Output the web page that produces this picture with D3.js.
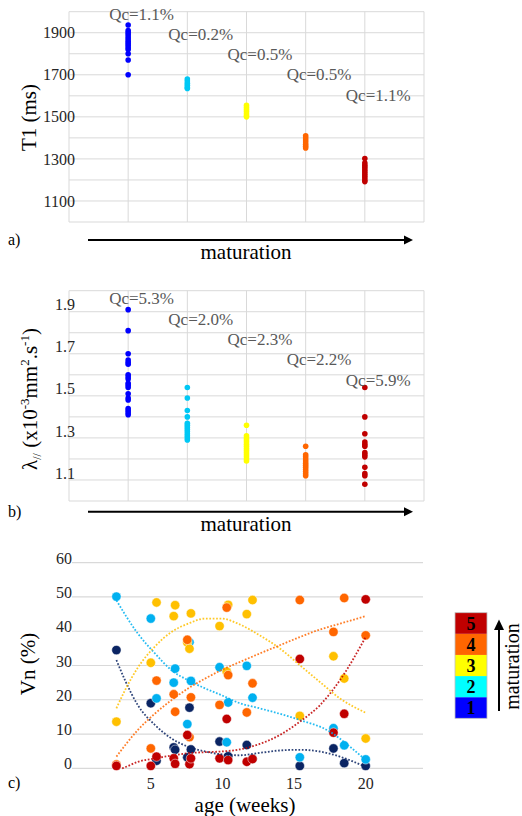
<!DOCTYPE html>
<html><head><meta charset="utf-8">
<script src="https://cdn.jsdelivr.net/npm/d3@7"></script>
<style>
body{margin:0;background:#fff}
svg{display:block}
text{font-family:"Liberation Serif","Times New Roman",serif}
</style>
</head><body>
<svg id="chart" width="522" height="816"></svg>
<script>
// ---------- DATA ----------
const classes = [1, 2, 3, 4, 5];

// panel a: T1 (ms) per maturation class
const t1Class1 = [1937, 1910, 1900, 1890, 1880, 1870, 1860, 1850, 1840, 1830, 1820, 1800, 1770, 1700];
const t1Class2 = [1680, 1670, 1660, 1650, 1640, 1635];
const t1Class3 = [1555, 1545, 1535, 1525, 1515, 1505, 1500];
const t1Class4 = [1410, 1400, 1390, 1380, 1370, 1360, 1352];
const t1Class5 = [1302, 1280, 1270, 1260, 1250, 1240, 1230, 1220, 1210, 1200, 1192];
const t1Qc = ["Qc=1.1%", "Qc=0.2%", "Qc=0.5%", "Qc=0.5%", "Qc=1.1%"];
const t1TickLabels = [1100, 1300, 1500, 1700, 1900];

// panel b: lambda // per maturation class
const lamClass1 = [1.91, 1.81, 1.70, 1.67, 1.66, 1.65, 1.60, 1.59, 1.58, 1.56, 1.55, 1.54, 1.51, 1.49, 1.48, 1.44, 1.43, 1.42, 1.41];
const lamClass2 = [1.54, 1.49, 1.43, 1.40, 1.37, 1.36, 1.35, 1.34, 1.33, 1.32, 1.31, 1.30, 1.29];
const lamClass3 = [1.36, 1.31, 1.30, 1.29, 1.28, 1.27, 1.26, 1.25, 1.24, 1.23, 1.22, 1.21, 1.20, 1.19];
const lamClass4 = [1.26, 1.22, 1.21, 1.20, 1.19, 1.18, 1.17, 1.16, 1.15, 1.14, 1.13, 1.12];
const lamClass5 = [1.54, 1.40, 1.32, 1.28, 1.27, 1.26, 1.23, 1.22, 1.21, 1.16, 1.13, 1.12, 1.08];
const lamQc = ["Qc=5.3%", "Qc=2.0%", "Qc=2.3%", "Qc=2.2%", "Qc=5.9%"];
const lamTickLabels = [1.1, 1.3, 1.5, 1.7, 1.9];

// panel c: Vn (%) per subject age (weeks)
const ages = [2.6, 5.0, 5.4, 6.6, 6.7, 7.55, 7.7, 7.8, 9.8, 10.3, 10.4, 11.7, 12.1, 15.4, 17.75, 18.5, 20.0];
const vn1 = [34.5, 19.0, 2.2, 6.1, 5.4, 3.2, 17.7, 5.5, 7.8, 2.9, 3.5, 6.8, 2.8, 0.7, 5.8, 1.5, 0.7];
const vn2 = [50.1, 43.7, 20.4, 25.0, 29.1, 12.9, 36.8, 25.5, 29.5, 7.6, 19.2, 29.9, 20.6, 3.2, 11.7, 6.7, 2.6];
const vn3 = [13.6, 30.8, 48.4, 44.4, 47.6, 36.7, 34.9, 45.2, 41.5, 28.2, 47.7, 45.0, 49.1, 15.3, 32.7, 26.2, 8.7];
const vn4 = [1.1, 5.8, 25.6, 21.6, 16.5, 37.5, 9.1, 20.7, 18.5, 46.9, 27.2, 16.3, 24.8, 49.1, 39.8, 49.7, 38.8];
const vn5 = [0.7, 0.7, 3.4, 2.9, 1.3, 9.7, 1.2, 2.9, 2.9, 14.4, 2.4, 1.9, 2.7, 31.9, 10.4, 15.9, 49.3];

// trend lines: [age, Vn]
const trend1 = [[2.6,31.6],[3.2,25.7],[4.1,18.4],[5.3,12.6],[6.45,8.7],[7.6,6.3],[8.8,4.9],[9.9,4.1],[11.2,3.8],[12.6,4.5],[14.0,5.2],[15.4,5.4],[16.8,4.9],[18.2,3.4],[20.0,0.4]];
const trend2 = [[2.6,49.0],[4.1,39.3],[5.3,33.5],[6.45,28.6],[7.6,25.7],[8.8,23.3],[9.9,21.4],[11.2,19.0],[12.5,17.6],[13.5,16.5],[15.4,14.1],[17.5,10.7],[18.9,6.3],[20.0,2.4]];
const trend3 = [[2.6,17.5],[3.2,22.8],[4.1,29.4],[5.3,35.6],[6.45,39.8],[7.6,42.2],[8.8,43.7],[9.9,43.7],[11.2,42.0],[12.6,38.8],[14.0,35.0],[15.4,30.1],[16.8,25.2],[18.2,20.4],[20.0,16.2]];
const trend4 = [[2.6,3.4],[4.1,11.2],[5.3,16.0],[6.45,19.9],[7.6,23.3],[8.8,26.2],[9.9,28.6],[11.2,31.0],[12.6,33.5],[14.0,35.9],[15.4,38.3],[16.8,40.5],[18.2,42.2],[20.0,44.4]];
const trend5 = [[3.0,0.0],[3.2,0.3],[4.1,1.9],[5.3,2.9],[6.45,3.7],[7.6,4.4],[8.8,4.7],[9.9,4.9],[11.2,5.5],[12.6,7.1],[14.0,9.7],[15.4,13.6],[16.8,18.4],[18.2,25.7],[20.0,38.3]];
const vnTicks = [0, 10, 20, 30, 40, 50, 60];
const ageTicks = [5, 10, 15, 20];
const legendLabels = ["1", "2", "3", "4", "5"];

// ---------- STYLE ----------
const abColors = ["#0000ff", "#00c8f5", "#ffff00", "#ff6600", "#c00000"];
const cColors = ["#0a2463", "#00b0f0", "#ffc000", "#ff6600", "#c00000"];
const legendColors = ["#0000ff", "#00ffff", "#ffff00", "#ff6600", "#c00000"];
const gridColor = "#d9d9d9";

const svg = d3.select("#chart");

function arrowRight(g, x1, x2, y) {
  g.append("line").attr("x1", x1).attr("x2", x2 - 8).attr("y1", y).attr("y2", y)
    .attr("stroke", "#000").attr("stroke-width", 2);
  g.append("path").attr("d", `M${x2},${y} L${x2 - 9},${y - 4.5} L${x2 - 9},${y + 4.5} Z`).attr("fill", "#000");
}

function stripPanel(opt) {
  const g = svg.append("g");
  const x = d3.scaleLinear().domain([0, 6]).range([69, 424]);
  const y = d3.scaleLinear().domain(opt.domain).range([opt.bottom, opt.top]);
  g.selectAll(".hg").data(d3.range(opt.domain[0], opt.domain[1] + opt.step / 2, opt.step)).join("line")
    .attr("x1", 69).attr("x2", 424).attr("y1", d => y(d)).attr("y2", d => y(d))
    .attr("stroke", gridColor).attr("stroke-width", 1);
  g.selectAll(".vg").data([0, 1, 2, 3, 4, 5, 6]).join("line")
    .attr("x1", d => x(d)).attr("x2", d => x(d)).attr("y1", opt.top).attr("y2", opt.bottom)
    .attr("stroke", gridColor).attr("stroke-width", 1);
  g.selectAll(".tl").data(opt.ticks).join("text")
    .attr("x", 75).attr("y", d => y(d) + opt.labelShift).attr("dy", "0.35em")
    .attr("text-anchor", "end").attr("font-size", 16).attr("fill", "#262626")
    .text(opt.fmt);
  opt.series.forEach((vals, i) => {
    g.selectAll(null).data(vals).join("circle")
      .attr("cx", x(classes[i])).attr("cy", d => y(d)).attr("r", 2.8)
      .attr("fill", abColors[i]);
  });
  g.selectAll(".qc").data(opt.qc).join("text")
    .attr("x", (d, i) => x(classes[i]) - 19)
    .attr("y", (d, i) => opt.top + opt.qcTop + i * 20.3)
    .attr("font-size", 17).attr("fill", "#595959").text(d => d);
  opt.title(g);
  arrowRight(g, 88, 413, opt.arrowY);
  g.append("text").attr("x", 246).attr("y", opt.arrowY + 19.3).attr("text-anchor", "middle")
    .attr("font-size", 21).attr("fill", "#000").text("maturation");
  g.append("text").attr("x", 8).attr("y", opt.arrowY + 5).attr("font-size", 16).attr("fill", "#000").text(opt.tag);
}

stripPanel({
  domain: [1000, 2000], step: 100, top: 11.7, bottom: 222,
  ticks: t1TickLabels, fmt: d => d, labelShift: 0,
  series: [t1Class1, t1Class2, t1Class3, t1Class4, t1Class5],
  qc: t1Qc, qcTop: 7.8, arrowY: 240, tag: "a)",
  title: g => g.append("text").attr("transform", "translate(36,117.5) rotate(-90)")
    .attr("text-anchor", "middle").attr("font-size", 21).text("T1 (ms)")
});

stripPanel({
  domain: [1.0, 2.0], step: 0.1, top: 290.7, bottom: 501,
  ticks: lamTickLabels, fmt: d => d.toFixed(1), labelShift: -7,
  series: [lamClass1, lamClass2, lamClass3, lamClass4, lamClass5],
  qc: lamQc, qcTop: 13.6, arrowY: 511.7, tag: "b)",
  title: g => {
    const t = g.append("text").attr("transform", "translate(37,399) rotate(-90)")
      .attr("text-anchor", "middle").attr("font-size", 21);
    t.append("tspan").text("λ");
    t.append("tspan").attr("font-size", 12).attr("dy", 4).text("//");
    t.append("tspan").attr("dy", -4).text(" (x10");
    t.append("tspan").attr("font-size", 13).attr("dy", -8).text("-3");
    t.append("tspan").attr("dy", 8).text("mm");
    t.append("tspan").attr("font-size", 13).attr("dy", -8).text("2");
    t.append("tspan").attr("dy", 8).text(".s");
    t.append("tspan").attr("font-size", 13).attr("dy", -8).text("-1");
    t.append("tspan").attr("dy", 8).text(")");
  }
});

// ---------- panel c ----------
(function () {
  const g = svg.append("g");
  const x = d3.scaleLinear().domain([-0.5, 24]).range([72, 423]);
  const y = d3.scaleLinear().domain([0, 60]).range([768.3, 562.7]);
  g.selectAll(".hg").data(vnTicks).join("line")
    .attr("x1", 72).attr("x2", 423).attr("y1", d => y(d)).attr("y2", d => y(d))
    .attr("stroke", gridColor).attr("stroke-width", 1.2);
  g.selectAll(".yl").data(vnTicks).join("text")
    .attr("x", 72).attr("y", d => y(d) - 4.5).attr("dy", "0.35em").attr("text-anchor", "end")
    .attr("font-size", 16).attr("fill", "#262626").text(d => d);
  g.selectAll(".xl").data(ageTicks).join("text")
    .attr("x", d => x(d)).attr("y", 788.5).attr("text-anchor", "middle")
    .attr("font-size", 16).attr("fill", "#262626").text(d => d);
  const vnSeries = [vn1, vn2, vn3, vn4, vn5];
  vnSeries.forEach((vals, i) => {
    g.selectAll(null).data(vals.map((v, k) => [ages[k], v])).join("circle")
      .attr("cx", d => x(d[0])).attr("cy", d => y(d[1])).attr("r", 4.7)
      .attr("fill", cColors[i]).attr("stroke", "#fff").attr("stroke-width", 0.5);
  });
  const line = d3.line().x(d => x(d[0])).y(d => y(d[1])).curve(d3.curveMonotoneX);
  [trend1, trend2, trend3, trend4, trend5].forEach((tr, i) => {
    g.append("path").attr("d", line(tr)).attr("fill", "none")
      .attr("stroke", cColors[i]).attr("stroke-width", 1.8)
      .attr("stroke-dasharray", "1.7,1.7").attr("opacity", 0.85);
  });
  g.append("text").attr("transform", "translate(35,664) rotate(-90)")
    .attr("text-anchor", "middle").attr("font-size", 21).text("Vn (%)");
  g.append("text").attr("x", 245).attr("y", 812).attr("text-anchor", "middle")
    .attr("font-size", 21).text("age (weeks)");
  g.append("text").attr("x", 8).attr("y", 788).attr("font-size", 16).text("c)");

  // legend
  const ly = d3.scaleBand().domain(classes.slice().reverse()).range([612.7, 718.3]);
  const lg = g.append("g");
  lg.selectAll("rect").data(classes).join("rect")
    .attr("x", 455).attr("width", 32).attr("y", d => ly(d)).attr("height", ly.bandwidth())
    .attr("fill", (d, i) => legendColors[i]);
  lg.append("rect").attr("x", 455).attr("y", 612.7).attr("width", 32).attr("height", 105.6)
    .attr("fill", "none").attr("stroke", "#bfbfbf").attr("stroke-width", 0.8);
  lg.selectAll("text").data(classes).join("text")
    .attr("x", 471).attr("y", d => ly(d) + ly.bandwidth() / 2).attr("dy", "0.36em")
    .attr("text-anchor", "middle").attr("font-size", 18).attr("font-weight", "bold")
    .text((d, i) => legendLabels[i]);
  lg.append("line").attr("x1", 499).attr("x2", 499).attr("y1", 711).attr("y2", 628)
    .attr("stroke", "#000").attr("stroke-width", 2);
  lg.append("path").attr("d", "M499,619.5 L494,630 L504,630 Z").attr("fill", "#000");
  lg.append("text").attr("transform", "translate(518.5,666.5) rotate(-90)")
    .attr("text-anchor", "middle").attr("font-size", 20).text("maturation");
})();
</script>
</body></html>
